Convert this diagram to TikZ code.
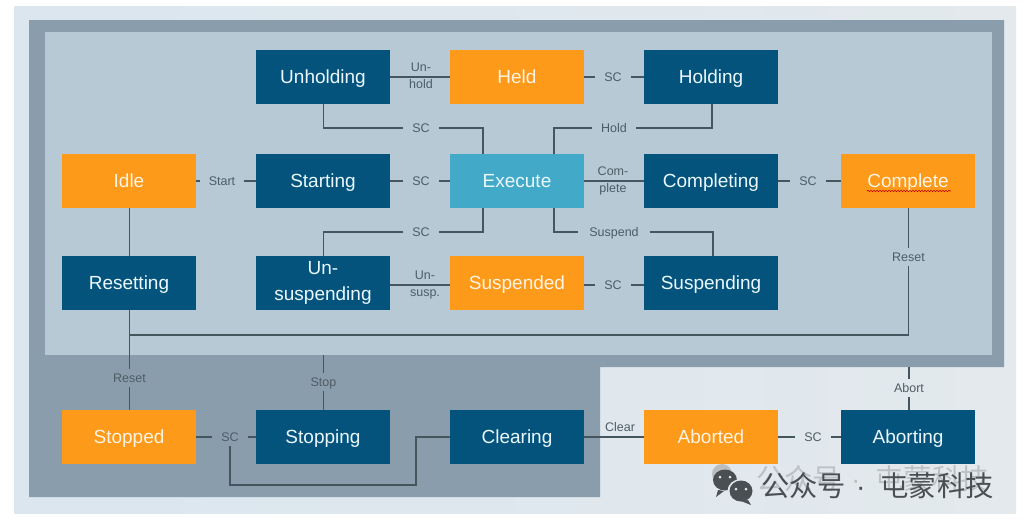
\documentclass[tikz,border=0pt]{standalone}
\usepackage{fontspec}
\setmainfont{Liberation Sans}
\newfontfamily\cjk{Noto Sans CJK SC}
\usetikzlibrary{decorations.pathmorphing,calc}
\definecolor{outerc}{HTML}{E3E9ED}
\definecolor{outerl}{HTML}{DBE6EF}
\definecolor{bandc}{HTML}{8A9DAC}
\definecolor{innerc}{HTML}{B6C9D4}
\definecolor{navy}{HTML}{04537D}
\definecolor{orng}{HTML}{FD9A19}
\definecolor{exec}{HTML}{42A9C9}
\definecolor{linec}{HTML}{46565F}
\definecolor{labc}{HTML}{4E5C66}
\definecolor{wmark}{HTML}{4A4F53}
\newcommand\bigstrut{\rule[-5pt]{0pt}{23.6pt}}
\newcommand\smallstrut{\rule[-3.5pt]{0pt}{16pt}}
\newcommand\wmtext{公众号\hspace{10pt}{\rmfamily ·}\hspace{15pt}屯蒙科技}
\tikzset{
  box/.style={minimum width=134pt,minimum height=54pt,inner sep=0pt,outer sep=0pt,align=center,
    font=\fontsize{19}{26}\selectfont,execute at begin node=\bigstrut},
  act/.style={box,fill=navy,text=white!92!cyan},
  wait/.style={box,fill=orng,text=white!88!orng},
  run/.style={box,fill=exec,text=white!92!cyan},
  lab/.style={inner xsep=9pt,inner ysep=1pt,outer sep=0pt,text=labc,align=center,font=\fontsize{12.5}{17}\selectfont,execute at begin node=\smallstrut},
  tag/.style={text=labc,inner sep=0pt,outer sep=0pt,align=center,font=\fontsize{12.5}{17}\selectfont,execute at begin node=\smallstrut},
  conn/.style={draw=linec,line width=1.15pt,line join=miter},
}
\begin{document}
\begin{tikzpicture}[x=1pt,y=-1pt]
\useasboundingbox (0,0) rectangle (1026,528);
\fill[white] (0,0) rectangle (1026,528);
\fill[left color=outerl,right color=outerc] (14,6) rectangle (1016,513);
\fill[bandc] (29,20) -- (1004,20) -- (1004,367) -- (600,367) -- (600,497) -- (29,497) -- cycle;
\fill[innerc] (45,32) rectangle (992,355);
% states
\node[act] (unholding) at (323,77) {Unholding};
\node[wait] (held) at (517,77) {Held};
\node[act] (holding) at (711,77) {Holding};
\node[wait] (idle) at (129,181) {Idle};
\node[act] (starting) at (323,181) {Starting};
\node[run] (execute) at (517,181) {Execute};
\node[act] (completing) at (711,181) {Completing};
\node[wait] (complete) at (908,181) {Complete};
\node[act] (resetting) at (129,283) {Resetting};
\node[act] (unsuspending) at (323,283) {Un-\\\bigstrut suspending};
\node[wait] (suspended) at (517,283) {Suspended};
\node[act] (suspending) at (711,283) {Suspending};
\node[wait] (stopped) at (129,437) {Stopped};
\node[act] (stopping) at (323,437) {Stopping};
\node[act] (clearing) at (517,437) {Clearing};
\node[wait] (aborted) at (711,437) {Aborted};
\node[act] (aborting) at (908,437) {Aborting};
% labels
\node[lab] (lsc1) at (421,128) {SC};
\node[lab] (lhold) at (614,128) {Hold};
\node[lab] (lsc2) at (613,77) {SC};
\node[lab] (lstart) at (222,181) {Start};
\node[lab] (lsc3) at (421,181) {SC};
\node[lab] (lsc4) at (808,181) {SC};
\node[lab] (lsc5) at (421,232) {SC};
\node[lab,inner xsep=11pt] (lsuspend) at (614,232) {Suspend};
\node[lab] (lsc6) at (613,285) {SC};
\node[lab] (lreset1) at (908.5,257) {Reset};
\node[lab] (lreset2) at (129.5,378) {Reset};
\node[lab] (lstop) at (323.5,382) {Stop};
\node[lab] (labort) at (909,388) {Abort};
\node[lab] (lsc7) at (230,437) {SC};
\node[lab] (lsc8) at (813,437) {SC};
\node[tag] (tunhold) at (421,77) {Un-\\\smallstrut hold};
\node[tag] (tcomplete) at (613,181) {Com-\\\smallstrut plete};
\node[tag] (tunsusp) at (425,285) {Un-\\\smallstrut susp.};
\node[tag] (tclear) at (620,427) {Clear};
% free ends
\coordinate (stoptop) at (323.5,355);
\coordinate (aborttop) at (909,367);
\coordinate (rail) at (129.5,335);
\coordinate (busl) at (230,485);
\coordinate (busr) at (416,485);
\coordinate (busu) at (416,437);
% connectors
\draw[conn] (unholding) -- (held);
\draw[conn] (held) -- (lsc2) -- (holding);
\draw[conn] ([xshift=.7pt]unholding.south) |- (lsc1);
\draw[conn] (lsc1) -| ([xshift=-34pt]execute.north);
\draw[conn] ([xshift=37pt]execute.north) |- (lhold);
\draw[conn] (lhold) -| ([xshift=1pt]holding.south);
\draw[conn] (idle) -- (lstart) -- (starting);
\draw[conn] (starting) -- (lsc3) -- (execute);
\draw[conn] (execute) -- (completing);
\draw[conn] (completing) -- (lsc4) -- (complete);
\draw[conn] ([xshift=.7pt]idle.south) -- ([xshift=.7pt]resetting.north);
\draw[conn] ([xshift=-34pt]execute.south) |- (lsc5);
\draw[conn] (lsc5) -| ([xshift=.7pt]unsuspending.north);
\draw[conn] ([xshift=37pt]execute.south) |- (lsuspend);
\draw[conn] (lsuspend) -| ([xshift=2pt]suspending.north);
\draw[conn] (unsuspending.east |- tunsusp) -- (suspended.west |- tunsusp);
\draw[conn] (suspended.east |- lsc6) -- (lsc6) -- (suspending.west |- lsc6);
\draw[conn] (complete.south -| lreset1) -- (lreset1);
\draw[conn] (lreset1) |- (rail);
\draw[conn] (resetting.south -| lreset2) -- (lreset2) -- (stopped.north -| lreset2);
\draw[conn] (stoptop) -- (lstop) -- (stopping.north -| lstop);
\draw[conn] (aborttop) -- (labort) -- (aborting.north -| labort);
\draw[conn] (stopped) -- (lsc7) -- (stopping);
\draw[conn] (lsc7.south) -- (busl) -- (busr) -- (busu) -- (clearing.west);
\draw[conn] (clearing) -- (aborted);
\draw[conn] (aborted) -- (lsc8) -- (aborting);
% wavy underline under Complete
\draw[red!75!black,line width=0.6pt,decorate,decoration={snake,amplitude=0.7pt,segment length=3pt}] (867,191) -- (951,191);
% watermark
\fill[wmark!45,opacity=.75] (722,474) circle (10);
\node[inner sep=0pt,anchor=west,text=wmark!50,opacity=.6,font=\cjk\fontsize{28.3}{30}\selectfont] (wm2) at (756,479) {\wmtext};
\fill[wmark] (725,480) ellipse (12 and 10.5);
\fill[wmark] (718,490) -- (716,497) -- (724,491) -- cycle;
\fill[outerc] (741,491) ellipse (13.5 and 12);
\fill[wmark] (741,491) ellipse (11.5 and 10.5);
\fill[wmark] (748,500) -- (751,505) -- (741,501) -- cycle;
\fill[outerc] (720,477) circle (1.5) (730,477) circle (1.5) (736,489) circle (1.5) (746,489) circle (1.5);
\node[inner sep=0pt,anchor=west,text=wmark,font=\cjk\fontsize{28.3}{30}\selectfont] (wm1) at (761,486) {\wmtext};
\end{tikzpicture}
\end{document}
